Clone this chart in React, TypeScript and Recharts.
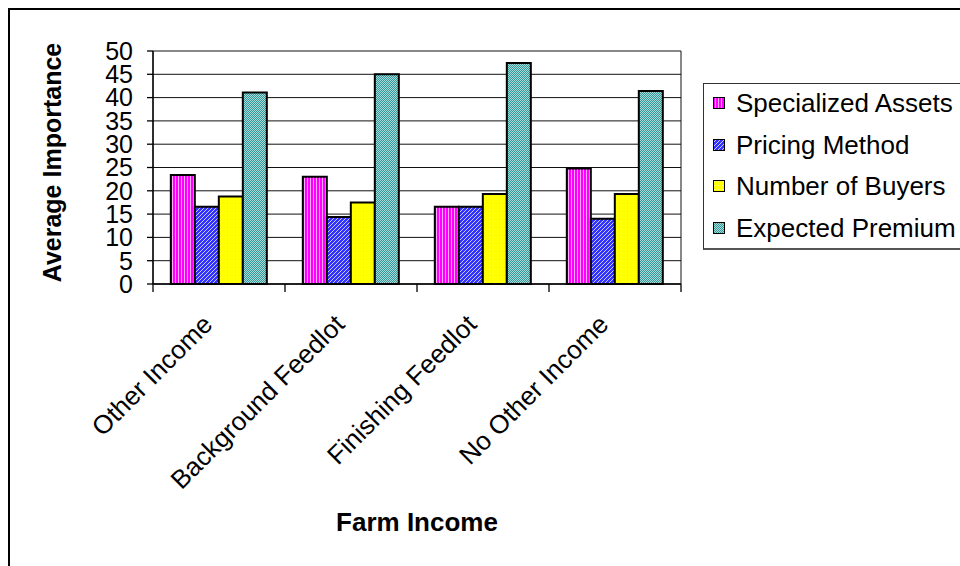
import React from 'react';
import * as RC from 'recharts';

const { BarChart, Bar, XAxis, YAxis, CartesianGrid, Label } = RC as any;

const categories = ['Other Income', 'Background Feedlot', 'Finishing Feedlot', 'No Other Income'];
const specializedAssets = [23.4, 23.0, 16.6, 24.8];
const pricingMethod = [16.6, 14.4, 16.6, 14.0];
const numberOfBuyers = [18.8, 17.5, 19.3, 19.3];
const expectedPremium = [41.1, 45.0, 47.4, 41.4];
const yTicks = [0, 5, 10, 15, 20, 25, 30, 35, 40, 45, 50];

const seriesInfo = [
  { key: 'specialized', name: 'Specialized Assets', fill: 'url(#patPink)' },
  { key: 'pricing', name: 'Pricing Method', fill: 'url(#patBlue)' },
  { key: 'buyers', name: 'Number of Buyers', fill: 'url(#patYellow)' },
  { key: 'premium', name: 'Expected Premium', fill: 'url(#patTeal)' },
];

const data = categories.map((c, i) => ({
  category: c,
  specialized: specializedAssets[i],
  pricing: pricingMethod[i],
  buyers: numberOfBuyers[i],
  premium: expectedPremium[i],
}));

const FONT = '"Liberation Sans", Arial, Helvetica, sans-serif';

function Patterns() {
  return (
    <defs>
      <pattern id="patPink" width="3" height="4" patternUnits="userSpaceOnUse">
        <rect width="3" height="4" fill="#FF00FF" />
        <rect x="2" width="1" height="4" fill="#FFA8FF" />
      </pattern>
      <pattern id="patBlue" width="4" height="4" patternUnits="userSpaceOnUse">
        <rect width="4" height="4" fill="#3333FF" />
        <path d="M-1,1 l2,-2 M0,4 l4,-4 M3,5 l2,-2" stroke="#C8C8FF" strokeWidth="1" />
      </pattern>
      <pattern id="patYellow" width="4" height="4" patternUnits="userSpaceOnUse">
        <rect width="4" height="4" fill="#FFFF00" />
        <rect x="1" y="1" width="1" height="1" fill="#FFFF99" />
      </pattern>
      <pattern id="patTeal" width="2" height="2" patternUnits="userSpaceOnUse">
        <rect width="2" height="2" fill="#339999" />
        <rect width="1" height="1" fill="#A8D8D8" />
        <rect x="1" y="1" width="1" height="1" fill="#A8D8D8" />
      </pattern>
    </defs>
  );
}

function BoundaryTicks() {
  const hook = (RC as any).usePlotArea || (RC as any).useOffset;
  const area = hook ? hook() : null;
  if (!area) return null;
  const left = area.x ?? area.left;
  const top = area.y ?? area.top;
  const { width, height } = area;
  const n = categories.length;
  const bottom = top + height;
  const lines = [];
  for (let i = 0; i <= n; i++) {
    const x = left + (i * width) / n;
    lines.push(<line key={i} x1={x} x2={x} y1={bottom} y2={bottom + 8} stroke="#000" strokeWidth={1.3} />);
  }
  return <g>{lines}</g>;
}

const CatTick = (props: any) => {
  const { x, y, payload } = props;
  return (
    <g transform={`translate(${x},${y})`}>
      <text
        x={0}
        y={0}
        transform="translate(-5,42) rotate(-45)"
        textAnchor="end"
        fontSize={26}
        fontFamily={FONT}
        fill="#000"
      >
        {payload.value}
      </text>
    </g>
  );
};

const YTitle = (props: any) => {
  const vb = props.viewBox;
  const cx = vb.x + 44;
  const cy = vb.y + vb.height / 2 - 5;
  return (
    <text
      x={cx}
      y={cy}
      transform={`rotate(-90, ${cx}, ${cy})`}
      textAnchor="middle"
      dominantBaseline="central"
      fontSize={25}
      fontWeight="bold"
      fontFamily={FONT}
      fill="#000"
    >
      Average Importance
    </text>
  );
};

const XTitle = (props: any) => {
  const vb = props.viewBox;
  const cx = vb.x + vb.width / 2;
  const cy = vb.y + 238;
  return (
    <text
      x={cx}
      y={cy}
      textAnchor="middle"
      dominantBaseline="central"
      fontSize={26}
      fontWeight="bold"
      fontFamily={FONT}
      fill="#000"
    >
      Farm Income
    </text>
  );
};

const LegendBox = () => (
  <div
    style={{
      position: 'absolute',
      left: 695,
      top: 75,
      width: 300,
      height: 167,
      border: '1px solid #333',
      borderBottom: '2px solid #555',
      boxSizing: 'border-box',
      background: '#fff',
      fontFamily: FONT,
    }}
  >
    {seriesInfo.map((s, i) => (
      <div
        key={s.key}
        style={{
          position: 'absolute',
          left: 9,
          top: 19 + i * 41.5 - 15,
          height: 30,
          display: 'flex',
          alignItems: 'center',
          whiteSpace: 'nowrap',
        }}
      >
        <svg width={12} height={12} style={{ marginRight: 11 }}>
          <rect x={0.5} y={0.5} width={11} height={11} fill={s.fill} stroke="#000" strokeWidth={1} />
        </svg>
        <span style={{ fontSize: 26, color: '#000', lineHeight: '30px' }}>{s.name}</span>
      </div>
    ))}
  </div>
);

export default function App() {
  return (
    <div
      style={{
        position: 'fixed',
        left: 8,
        top: 8,
        width: 952,
        height: 558,
        overflow: 'hidden',
        fontFamily: FONT,
        background: '#fff',
      }}
    >
      <BarChart
        width={952}
        height={558}
        data={data}
        margin={{ top: 43, right: 279, bottom: 0, left: 0 }}
        barCategoryGap="13.5%"
        barGap={0}
      >
        <Patterns />
        <CartesianGrid
          stroke="#111"
          strokeWidth={1}
          vertical={true}
          verticalCoordinatesGenerator={(p: any) => [p.offset.left, p.offset.left + p.offset.width]}
          fill="#fff"
        />
        <XAxis
          dataKey="category"
          height={282}
          tickLine={false}
          tickSize={0}
          tickMargin={0}
          axisLine={{ stroke: '#000', strokeWidth: 1.3 }}
          tick={<CatTick />}
          interval={0}
        >
          <Label content={<XTitle />} />
        </XAxis>
        <YAxis
          width={145}
          domain={[0, 50]}
          ticks={yTicks}
          interval={0}
          tickSize={6}
          tickMargin={14}
          tickLine={{ stroke: '#000', strokeWidth: 1.3 }}
          axisLine={{ stroke: '#000', strokeWidth: 1.3 }}
          tick={{ fontSize: 25, fill: '#000', fontFamily: FONT }}
        >
          <Label content={<YTitle />} />
        </YAxis>
        {seriesInfo.map((s) => (
          <Bar
            key={s.key}
            dataKey={s.key}
            name={s.name}
            fill={s.fill}
            stroke="#000"
            strokeWidth={2}
            isAnimationActive={false}
          />
        ))}
        <BoundaryTicks />
      </BarChart>
      <LegendBox />
      <div
        style={{
          position: 'absolute',
          left: 0,
          top: 0,
          width: 952,
          height: 558,
          borderLeft: '2px solid #000',
          borderTop: '2px solid #000',
          boxSizing: 'border-box',
          pointerEvents: 'none',
        }}
      />
    </div>
  );
}
